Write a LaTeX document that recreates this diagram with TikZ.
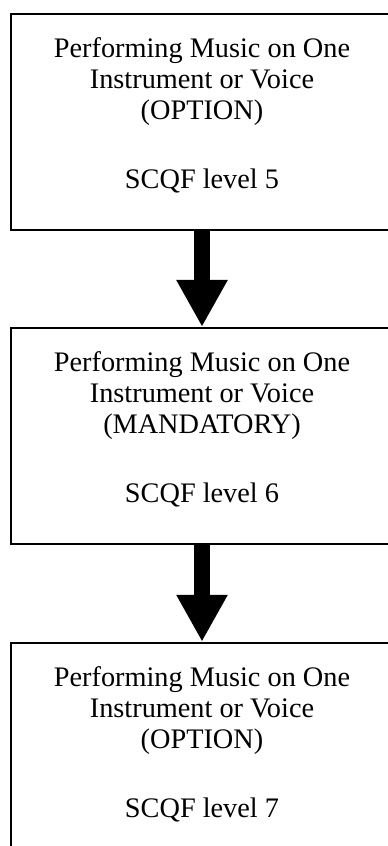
\documentclass[tikz,border=0pt]{standalone}
\usepackage{fontspec}
\setmainfont{Liberation Serif}
\usetikzlibrary{positioning,arrows.meta}

\begin{document}
\begin{tikzpicture}[x=0.02cm,y=-0.02cm,
  levelbox/.style={draw=black,line width=1.1pt,minimum width=7.64cm,minimum height=4.32cm,
    align=center,inner sep=0pt,text depth=0.36cm,font=\fontsize{16.1}{17.6}\selectfont},
  levelarrow/.style={line width=0.34cm,-{Triangle[width=0.96cm,length=0.94cm]}}]
\useasboundingbox (0,0) rectangle (387,846);

\node[levelbox] (l5) at (202,122) {Performing Music on One\\Instrument or Voice\\(OPTION)\\[0.76cm]SCQF level 5};
\node[levelbox,below=1.92cm of l5] (l6) {Performing Music on One\\Instrument or Voice\\(MANDATORY)\\[0.76cm]SCQF level 6};
\node[levelbox,below=1.94cm of l6] (l7) {Performing Music on One\\Instrument or Voice\\(OPTION)\\[0.76cm]SCQF level 7};

\draw[levelarrow] (l5) -- (l6);
\draw[levelarrow] (l6) -- (l7);
\end{tikzpicture}
\end{document}
